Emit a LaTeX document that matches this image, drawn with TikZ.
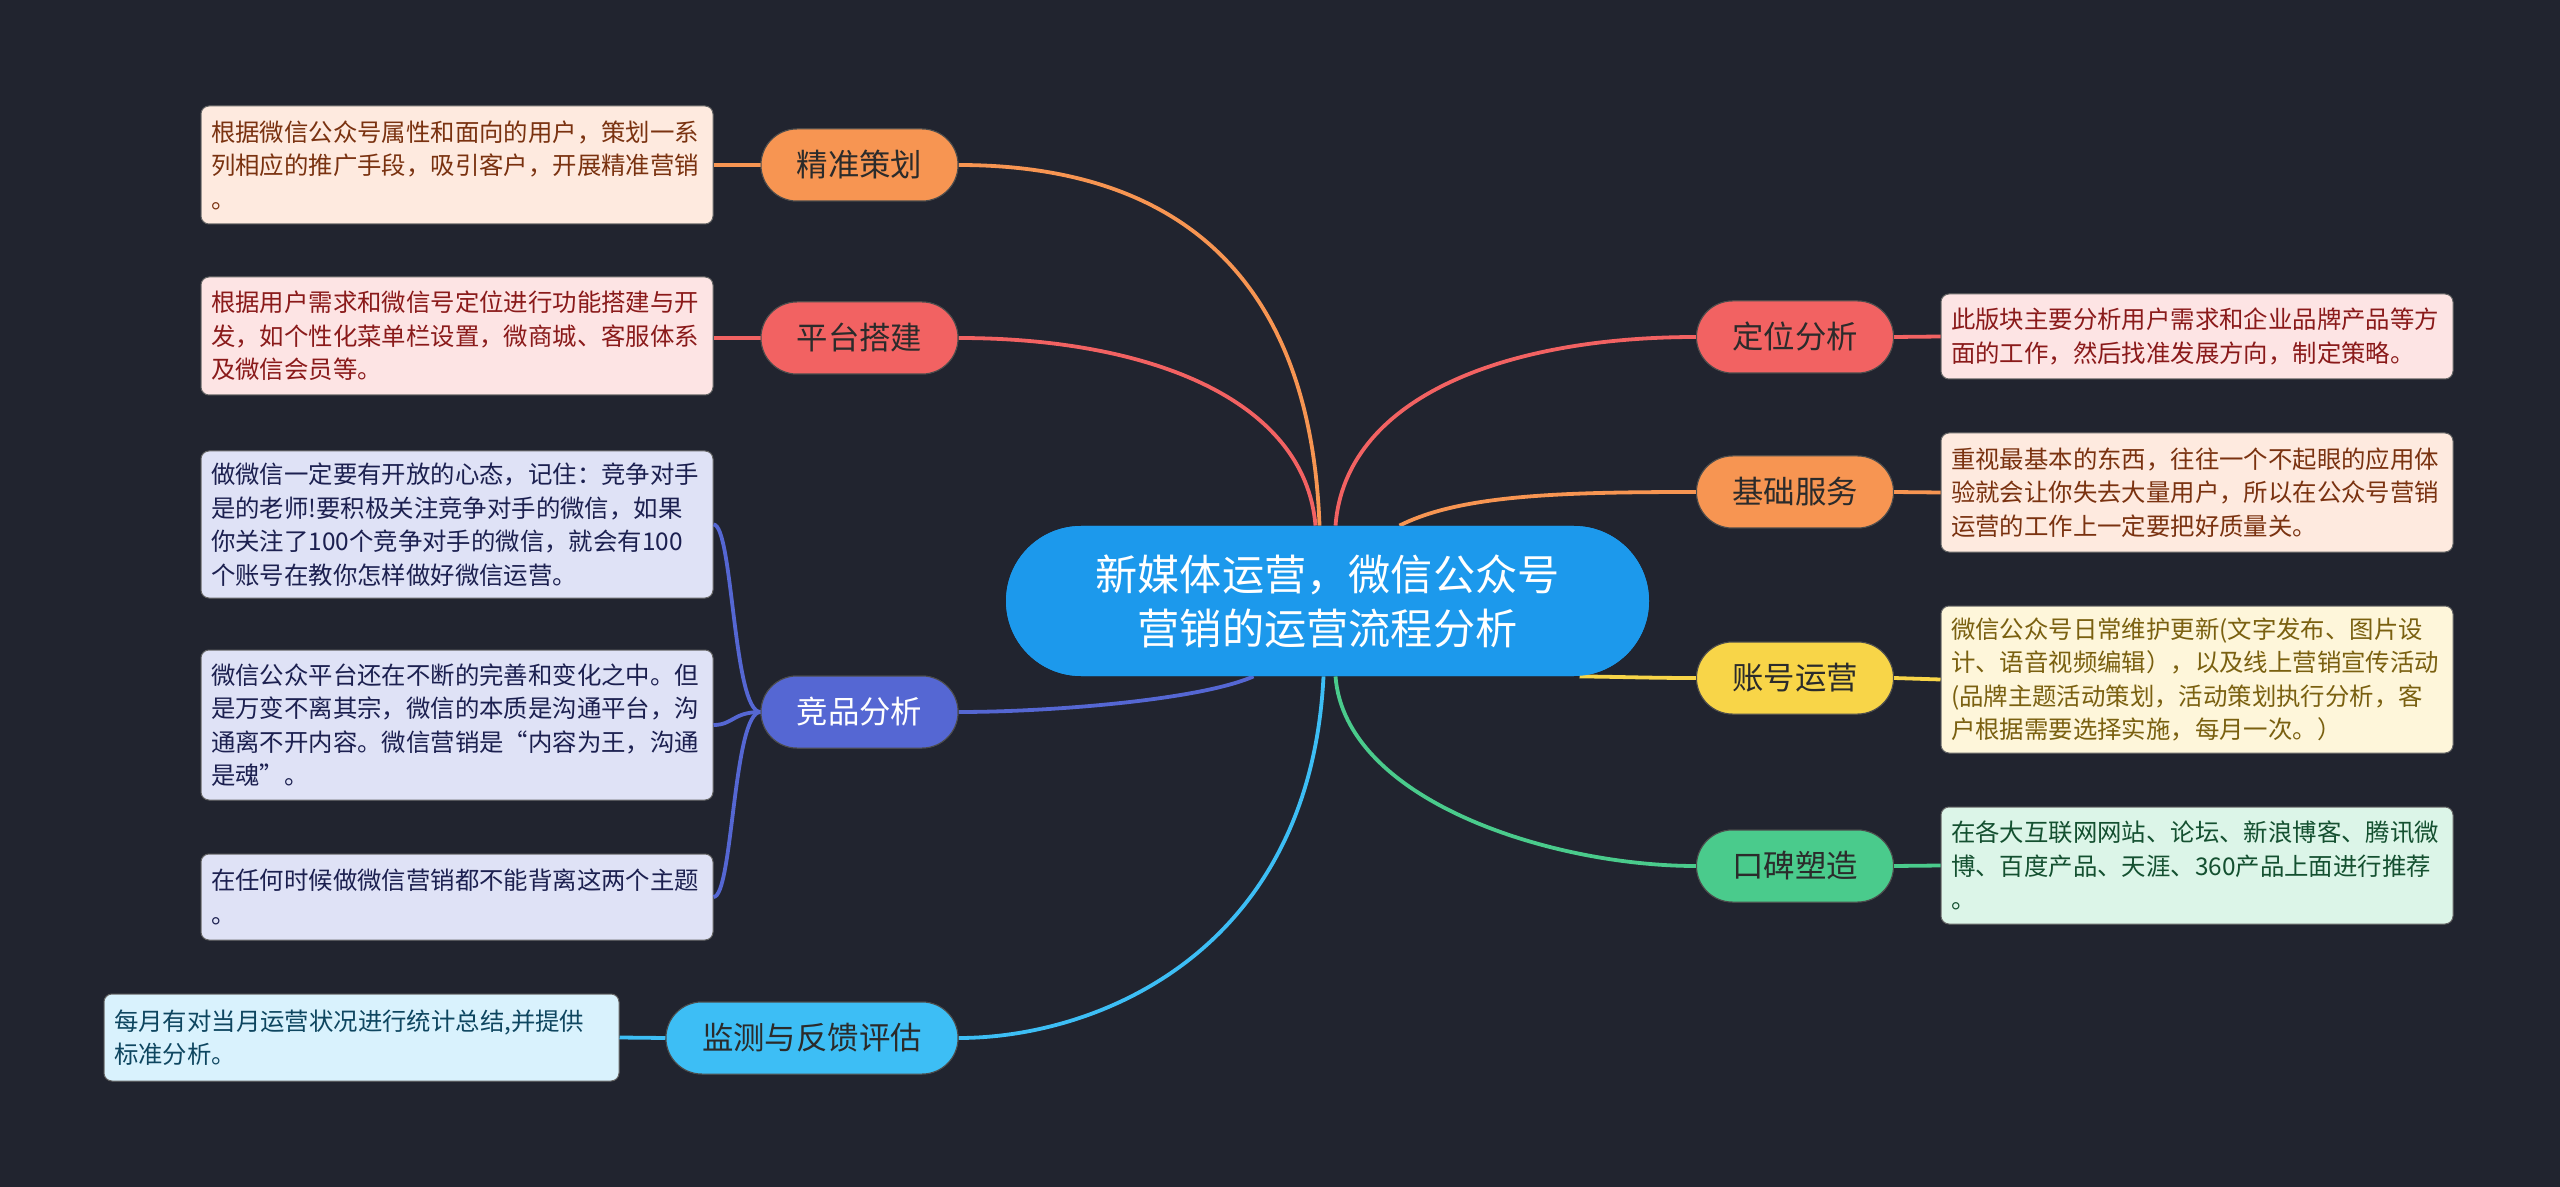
\documentclass[tikz,border=0pt]{standalone}
\usepackage{fontspec}
\setmainfont{Noto Sans CJK SC}
\usetikzlibrary{calc}
\definecolor{bg}{HTML}{21242F}
\definecolor{centralC}{HTML}{1C99EC}
\definecolor{orangeB}{HTML}{F79552}
\definecolor{orangeL}{HTML}{FEEADF}
\definecolor{orangeT}{HTML}{7A3210}
\definecolor{redB}{HTML}{F26262}
\definecolor{redL}{HTML}{FDE4E4}
\definecolor{redT}{HTML}{8A1A1A}
\definecolor{violetB}{HTML}{5567D3}
\definecolor{violetL}{HTML}{DFE2F6}
\definecolor{violetT}{HTML}{1C2050}
\definecolor{skyB}{HTML}{3DBEF5}
\definecolor{skyL}{HTML}{D9F2FD}
\definecolor{skyT}{HTML}{0E4660}
\definecolor{yellowB}{HTML}{F8D548}
\definecolor{yellowL}{HTML}{FEF6DA}
\definecolor{yellowT}{HTML}{7A6010}
\definecolor{greenB}{HTML}{4ACB8C}
\definecolor{greenL}{HTML}{DCF5E8}
\definecolor{greenT}{HTML}{145030}
\definecolor{darkT}{HTML}{2B2B2B}
\begin{document}
\begin{tikzpicture}[x=0.5pt,y=-0.5pt,
  centralbox/.style={rounded corners=37.5pt, minimum width=321.5pt, minimum height=75pt, inner sep=0pt, fill=centralC, text=white, align=center, font=\fontsize{21.1pt}{27pt}\selectfont},
  branch/.style={rounded corners=18pt, minimum width=98.5pt, minimum height=36pt, inner sep=0pt, font=\fontsize{15.7pt}{18pt}\selectfont, draw=black!70, line width=0.5pt, text=darkT},
  leaf/.style={rounded corners=4pt, inner xsep=5pt, inner ysep=0pt, align=left, text width=246pt, minimum width=256pt, font=\fontsize{12.2pt}{16.75pt}\selectfont, draw=black!60, line width=0.5pt},
  link/.style={line width=1.9pt}]
\fill[bg] (0,0) rectangle (2560,1187);
\useasboundingbox (0,0) rectangle (2560,1187);

% central
\node[centralbox] (c) at (1327.5,601) {新媒体运营，微信公众号\\营销的运营流程分析};

% branches left
\node[branch, fill=orangeB] (jz) at (859.5,165) {精准策划};
\node[branch, fill=redB] (pt) at (859.5,338) {平台搭建};
\node[branch, fill=violetB, text=white] (jp) at (859.5,712) {竞品分析};
\node[branch, fill=skyB, minimum width=146pt] (jc) at (812,1038) {监测与反馈评估};
% branches right
\node[branch, fill=redB] (dw) at (1795,337) {定位分析};
\node[branch, fill=orangeB] (jc2) at (1795,492) {基础服务};
\node[branch, fill=yellowB] (zy) at (1795,678) {账号运营};
\node[branch, fill=greenB] (kb) at (1795,866) {口碑塑造};

% leaves left
\node[leaf, fill=orangeL, text=orangeT, minimum height=59pt] (l1) at (457,165) {根据微信公众号属性和面向的用户，策划一系\\列相应的推广手段，吸引客户，开展精准营销\\。};
\node[leaf, fill=redL, text=redT, minimum height=59pt] (l2) at (457,336) {根据用户需求和微信号定位进行功能搭建与开\\发，如个性化菜单栏设置，微商城、客服体系\\及微信会员等。};
\node[leaf, fill=violetL, text=violetT, minimum height=73.5pt] (l3) at (457,524.5) {做微信一定要有开放的心态，记住：竞争对手\\是的老师!要积极关注竞争对手的微信，如果\\你关注了100个竞争对手的微信，就会有100\\个账号在教你怎样做好微信运营。};
\node[leaf, fill=violetL, text=violetT, minimum height=75pt] (l4) at (457,725) {微信公众平台还在不断的完善和变化之中。但\\是万变不离其宗，微信的本质是沟通平台，沟\\通离不开内容。微信营销是“内容为王，沟通\\是魂”。};
\node[leaf, fill=violetL, text=violetT, minimum height=43pt] (l5) at (457,897) {在任何时候做微信营销都不能背离这两个主题\\。};
\node[leaf, fill=skyL, text=skyT, minimum height=43.5pt, minimum width=257.5pt, text width=247.5pt] (l6) at (361.5,1037.5) {每月有对当月运营状况进行统计总结,并提供\\标准分析。};

% leaves right
\node[leaf, fill=redL, text=redT, minimum height=42.5pt] (r1) at (2197,336.5) {此版块主要分析用户需求和企业品牌产品等方\\面的工作，然后找准发展方向，制定策略。};
\node[leaf, fill=orangeL, text=orangeT, minimum height=59.5pt] (r2) at (2197,492.5) {重视最基本的东西，往往一个不起眼的应用体\\验就会让你失去大量用户，所以在公众号营销\\运营的工作上一定要把好质量关。};
\node[leaf, fill=yellowL, text=yellowT, minimum height=73.5pt] (r3) at (2197,679.5) {微信公众号日常维护更新(文字发布、图片设\\计、语音视频编辑），以及线上营销宣传活动\\(品牌主题活动策划，活动策划执行分析，客\\户根据需要选择实施，每月一次。）};
\node[leaf, fill=greenL, text=greenT, minimum height=58.5pt] (r4) at (2197,865.5) {在各大互联网网站、论坛、新浪博客、腾讯微\\博、百度产品、天涯、360产品上面进行推荐\\。};

% connectors central -> branches
\draw[link, orangeB] ([xshift=-4pt]c.north) .. controls (1310,260) and (1160,165) .. (jz.east);
\draw[link, redB] ([xshift=-6pt]c.north) .. controls (1305,400) and (1150,338) .. (pt.east);
\draw[link, redB] ([xshift=4pt]c.north) .. controls (1345,400) and (1500,337) .. (dw.west);
\draw[link, orangeB] ([xshift=36pt]c.north) .. controls (1460,495) and (1560,492) .. (jc2.west);
\draw[link, yellowB] ([xshift=126pt]c.south) .. controls (1630,677) and (1650,678) .. (zy.west);
\draw[link, greenB] ([xshift=4pt]c.south) .. controls (1345,800) and (1550,866) .. (kb.west);
\draw[link, violetB] ([xshift=-37pt]c.south) .. controls (1200,700) and (1050,712) .. (jp.east);
\draw[link, skyB] ([xshift=-2pt]c.south) .. controls (1310,950) and (1100,1038) .. (jc.east);

% redraw central on top
\node[centralbox] at (c) {新媒体运营，微信公众号\\营销的运营流程分析};

% branch -> leaves
\draw[link, orangeB] (jz.west) -- (l1.east);
\draw[link, redB] (pt.west) -- (l2.east |- pt.west);
\draw[link, violetB] (jp.west) .. controls (733,712) and (733,524.5) .. (l3.east);
\draw[link, violetB] (jp.west) .. controls (733,712) and (733,725) .. (l4.east);
\draw[link, violetB] (jp.west) .. controls (733,712) and (733,897) .. (l5.east);
\draw[link, skyB] (jc.west) -- (l6.east);
\draw[link, redB] (dw.east) -- (r1.west);
\draw[link, orangeB] (jc2.east) -- (r2.west);
\draw[link, yellowB] (zy.east) -- (r3.west);
\draw[link, greenB] (kb.east) -- (r4.west);

% redraw branches on top of connectors
\node[branch, fill=orangeB] at (jz) {精准策划};
\node[branch, fill=redB] at (pt) {平台搭建};
\node[branch, fill=violetB, text=white] at (jp) {竞品分析};
\node[branch, fill=skyB, minimum width=146pt] at (jc) {监测与反馈评估};
\node[branch, fill=redB] at (dw) {定位分析};
\node[branch, fill=orangeB] at (jc2) {基础服务};
\node[branch, fill=yellowB] at (zy) {账号运营};
\node[branch, fill=greenB] at (kb) {口碑塑造};
\end{tikzpicture}
\end{document}
